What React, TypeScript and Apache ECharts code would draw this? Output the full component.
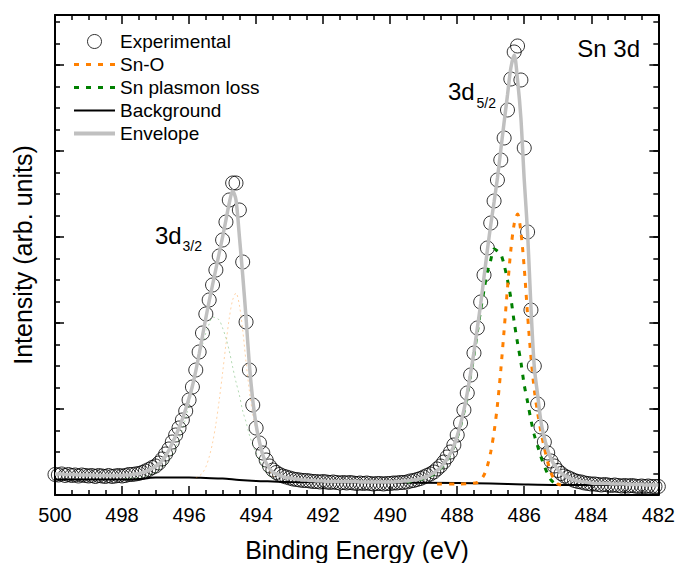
import React, { useEffect, useRef } from "react";
import * as echarts from "echarts";

// ---- Data (binding energy in eV, intensity in arbitrary units) ----
const energyStart = 500;
const energyStep = 0.1;

// Experimental points, 500.0 eV -> 482.0 eV in 0.1 eV steps
const experimental = [
  20.5, 20, 21, 19.5, 20.5, 19.5, 20, 19, 20, 19.5,
  19, 19.5, 18.5, 19.5, 19, 18.5, 19.5, 18.5, 19, 19.5,
  19, 19.5, 20.5, 20.5, 21, 21.5, 22.5, 24, 25.5, 27.5,
  29, 32, 36, 41, 46, 53, 60, 67, 75, 84,
  95, 108, 125, 143, 162, 181, 195, 210, 225, 239,
  255, 273, 295, 312, 312, 285, 233, 173, 125, 90,
  67, 52, 42, 35, 29, 25, 22.5, 20.5, 19, 18,
  17, 16, 15.5, 15, 14.5, 14.5, 14, 13.5, 13.5, 13,
  13.5, 13, 12.5, 13, 12.5, 12, 12.5, 12, 12.5, 12,
  11.5, 12, 11.5, 12, 11.5, 11, 11.5, 11.5, 11, 11.5,
  11.5, 12, 12, 12.5, 12.5, 13, 14, 14.5, 15.5, 16.5,
  18, 19.5, 21, 23, 26, 29, 33, 38, 43, 50,
  60, 72, 85, 102, 120, 142, 167, 193, 220, 247,
  272, 294, 315, 335, 357, 385, 416, 443, 449, 415,
  347, 263, 185, 129, 91, 68, 53, 42, 34, 29,
  24.5, 21.5, 19, 17.5, 16, 14.5, 13.5, 13, 12, 11.5,
  11, 11, 10.5, 10, 10.5, 10, 9.5, 10, 9.5, 9,
  9.5, 9, 9.5, 9, 8.5, 9, 8.5, 9, 8.5, 8.5,
  8.5,
];

// Fitted envelope on the same energy grid
const envelope = [
  21, 21, 21, 20.5, 20.5, 20.5, 20.5, 20, 20, 20,
  20, 20, 19.5, 19.5, 19.5, 19.5, 19.5, 19.5, 19.5, 19.5,
  19.5, 20, 20, 20.5, 21, 21.5, 22.5, 23.5, 25, 26.5,
  28.5, 31, 34.5, 39, 45, 52, 59, 67, 76, 86,
  97, 109, 124, 141, 159, 177, 194, 210, 226, 242,
  258, 275, 292, 304, 295, 259, 220, 177, 130, 95,
  70, 53, 40, 32, 26.5, 23, 21, 19.5, 18.5, 17.5,
  17, 16.5, 16, 15.5, 15, 15, 14.5, 14.5, 14, 14,
  14, 13.5, 13.5, 13.5, 13.5, 13.5, 13.5, 13.5, 13.5, 13.5,
  13.5, 13, 13, 13, 13, 13, 13, 13, 13, 13,
  13, 13, 13.5, 13.5, 14, 14, 14.5, 15, 15.5, 16.5,
  17.5, 18.5, 20, 22, 24.5, 27.5, 31.5, 36, 42, 49,
  59, 71, 85, 102, 122, 143, 167, 191, 218, 245,
  270, 293, 317, 345, 373, 400, 427, 440, 415, 377,
  315, 262, 188, 128, 100, 73, 57, 45, 36, 30,
  25.5, 22, 19.5, 17.5, 16, 15, 14, 13.5, 13, 12.5,
  12, 11.5, 11.5, 11.5, 11.5, 11.5, 11, 11, 11, 11,
  11, 10.5, 10.5, 10.5, 10.5, 10.5, 10, 10, 10, 10,
  10,
];

// Background
const backgroundEnergy = [500, 498, 497.5, 497.2, 497, 496, 495.5, 495, 494.5, 494, 493.5, 493, 490, 488, 487, 486.5, 486, 485, 482];
const backgroundValue = [15.5, 15.5, 16, 17, 17.5, 17.5, 17, 16.5, 15, 14, 13.5, 13, 12.5, 12, 11.5, 11, 10.5, 10, 10];

// Sn-O component, 3d5/2
const snO52Energy = [488.6, 488.0, 487.6, 487.4, 487.3, 487.2, 487.1, 487.0, 486.9, 486.8, 486.7, 486.6, 486.5, 486.4, 486.3, 486.2, 486.1, 486.0, 485.9, 485.8, 485.7, 485.6, 485.5, 485.4, 485.3, 485.2, 485.1, 485.0, 484.9];
const snO52Value = [11, 11, 11.5, 12.5, 15, 20, 29, 43, 63, 90, 125, 165, 207, 245, 271, 281, 263, 227, 180, 138, 105, 82, 63, 47, 33, 22, 15, 11, 10];

// Sn plasmon loss component, 3d5/2
const plasmon52Energy = [489.5, 489.0, 488.8, 488.6, 488.5, 488.4, 488.3, 488.2, 488.1, 488.0, 487.9, 487.8, 487.7, 487.6, 487.5, 487.4, 487.3, 487.2, 487.1, 487.0, 486.9, 486.8, 486.7, 486.6, 486.5, 486.4, 486.3, 486.2, 486.1, 486.0, 485.9, 485.8, 485.7, 485.6, 485.5, 485.4, 485.3, 485.2, 485.1, 485.0];
const plasmon52Value = [13, 16.5, 19, 23.5, 26.5, 30.5, 35, 41, 48, 57.5, 69, 83, 100, 120, 140, 163, 185, 205, 223, 235, 246, 244, 241, 230, 215, 197, 173, 152, 133, 110, 93, 75, 60, 49, 38, 29, 21, 15, 12, 10.5];

// Sn-O component, 3d3/2 (faint)
const snO32Energy = [495.8, 495.7, 495.6, 495.5, 495.4, 495.3, 495.2, 495.1, 495.0, 494.9, 494.8, 494.7, 494.6, 494.5, 494.4, 494.3, 494.2, 494.1, 494.0, 493.9, 493.8, 493.7, 493.6, 493.5, 493.4];
const snO32Value = [17, 19, 22, 28, 38, 52, 71, 95, 122, 151, 177, 195, 202, 190, 165, 133, 104, 81, 65, 52, 41, 31, 24, 19, 16];

// Sn plasmon loss component, 3d3/2 (faint)
const plasmon32Energy = [497.9, 497.4, 497.2, 497.0, 496.9, 496.8, 496.7, 496.6, 496.5, 496.4, 496.3, 496.2, 496.1, 496.0, 495.9, 495.8, 495.7, 495.6, 495.5, 495.4, 495.3, 495.2, 495.1, 495.0, 494.9, 494.8, 494.7, 494.6, 494.5, 494.4, 494.3, 494.2, 494.1, 494.0, 493.9, 493.8, 493.7, 493.6, 493.5];
const plasmon32Value = [16.5, 18, 20, 22.5, 25, 28, 31, 35, 41, 48, 56, 66, 77, 91, 105, 121, 136, 150, 162, 171, 178, 177, 175, 167, 157, 144, 128, 113, 100, 84, 73, 60, 50, 42, 35, 28, 23, 19, 16.5];

const legendNames = ["Experimental", "Sn-O", "Sn plasmon loss", "Background", "Envelope"];

const FONT = "'Liberation Sans', Arial, Helvetica, sans-serif";
const ORANGE = "#ff8000";
const GREEN = "#008000";
const GREY = "#c0c0c0";

const gridEnergies = experimental.map((_, i) => Math.round((energyStart - i * energyStep) * 10) / 10);
const pairs = (xs: number[], ys: number[]) => xs.map((x, i) => [x, ys[i]]);

export default function App() {
  const ref = useRef<HTMLDivElement>(null);

  useEffect(() => {
    document.body.style.margin = "0";
    if (!ref.current) return;
    const chart = echarts.init(ref.current, null, { renderer: "svg" });

    const axisLine = { show: true, onZero: false, lineStyle: { color: "#000", width: 2 } };
    const majorTick = { show: true, inside: true, length: 9, lineStyle: { color: "#000", width: 1.5 } };
    const minorTickOnly = { show: true, inside: true, length: 5, lineStyle: { color: "#000", width: 1.5 } };
    const xMinor = { show: true, splitNumber: 4, length: 5, lineStyle: { color: "#000", width: 1.5 } };

    const xCommon = {
      type: "value",
      min: 482,
      max: 500,
      interval: 2,
      inverse: true,
      axisLine,
      axisTick: majorTick,
      minorTick: xMinor,
      splitLine: { show: false },
      minorSplitLine: { show: false },
    };
    const yMajor = {
      type: "value",
      min: 0,
      max: 480,
      interval: 86,
      axisLine,
      axisTick: majorTick,
      axisLabel: { show: false },
      splitLine: { show: false },
    };
    const yMinor = {
      type: "value",
      min: 0,
      max: 480,
      interval: 21.5,
      axisLine: { show: false, onZero: false },
      axisTick: minorTickOnly,
      axisLabel: { show: false },
      splitLine: { show: false },
    };

    const hiddenSymbol = { opacity: 0, color: "rgba(0,0,0,0)", borderWidth: 0 };

    const option: any = {
      animation: false,
      backgroundColor: "#fff",
      grid: { left: 55, right: 19, top: 15, bottom: 68, containLabel: false },
      xAxis: [
        {
          ...xCommon,
          position: "bottom",
          axisLabel: { show: true, fontSize: 20, color: "#000", fontFamily: FONT, margin: 10, showMinLabel: true, showMaxLabel: true },
        },
        { ...xCommon, position: "top", axisLabel: { show: false } },
      ],
      yAxis: [
        { ...yMajor, position: "left" },
        { ...yMinor, position: "left" },
        { ...yMajor, position: "right" },
        { ...yMinor, position: "right" },
      ],
      legend: {
        orient: "vertical",
        left: 72,
        top: 32,
        padding: 0,
        itemGap: 4,
        itemWidth: 41,
        itemHeight: 14,
        selectedMode: false,
        textStyle: { fontSize: 19, color: "#000", fontFamily: FONT },
        data: [
          { name: legendNames[0], icon: "circle", itemStyle: { color: "rgba(255,255,255,0)", borderColor: "#000", borderWidth: 1 } },
          { name: legendNames[1], itemStyle: hiddenSymbol, lineStyle: { width: 3, type: [5, 7], color: ORANGE } },
          { name: legendNames[2], itemStyle: hiddenSymbol, lineStyle: { width: 3, type: [5, 7], color: GREEN } },
          { name: legendNames[3], itemStyle: hiddenSymbol, lineStyle: { width: 2, type: "solid", color: "#000" } },
          { name: legendNames[4], itemStyle: hiddenSymbol, lineStyle: { width: 4, type: "solid", color: GREY } },
        ],
      },
      series: [
        {
          name: "Experimental",
          type: "scatter",
          data: pairs(gridEnergies, experimental),
          symbol: "circle",
          symbolSize: 14,
          itemStyle: { color: "rgba(255,255,255,0)", borderColor: "#000", borderWidth: 1 },
          z: 2,
        },
        {
          name: "Background",
          type: "line",
          color: "#000",
          data: pairs(backgroundEnergy, backgroundValue),
          symbol: "none",
          showSymbol: false,
          smooth: 0.3,
          lineStyle: { color: "#000", width: 2 },
          z: 3,
        },
        {
          name: "Sn-O 3d3/2",
          type: "line",
          color: ORANGE,
          data: pairs(snO32Energy, snO32Value),
          symbol: "none",
          showSymbol: false,
          smooth: 0.3,
          lineStyle: { color: ORANGE, width: 1, type: [2, 3], opacity: 0.35 },
          z: 3,
        },
        {
          name: "Sn plasmon loss 3d3/2",
          type: "line",
          color: GREEN,
          data: pairs(plasmon32Energy, plasmon32Value),
          symbol: "none",
          showSymbol: false,
          smooth: 0.3,
          lineStyle: { color: GREEN, width: 1, type: [2, 3], opacity: 0.3 },
          z: 3,
        },
        {
          name: "Sn plasmon loss",
          type: "line",
          color: GREEN,
          data: pairs(plasmon52Energy, plasmon52Value),
          symbol: "none",
          showSymbol: false,
          smooth: 0.3,
          lineStyle: { color: GREEN, width: 3, type: [5, 7] },
          z: 4,
        },
        {
          name: "Sn-O",
          type: "line",
          color: ORANGE,
          data: pairs(snO52Energy, snO52Value),
          symbol: "none",
          showSymbol: false,
          smooth: 0.3,
          lineStyle: { color: ORANGE, width: 3, type: [5, 7] },
          z: 4,
        },
        {
          name: "Envelope",
          type: "line",
          color: GREY,
          data: pairs(gridEnergies, envelope),
          symbol: "none",
          showSymbol: false,
          smooth: 0.3,
          lineStyle: { color: GREY, width: 3.5 },
          z: 5,
        },
      ],
      graphic: [
        { type: "text", x: 640, y: 48, style: { text: "Sn 3d", fontSize: 24, fontFamily: FONT, fill: "#000", align: "right", verticalAlign: "middle" } },
        { type: "text", x: 448, y: 91, style: { text: "3d", fontSize: 24, fontFamily: FONT, fill: "#000", align: "left", verticalAlign: "middle" } },
        { type: "text", x: 476.5, y: 103, style: { text: "5/2", fontSize: 14, fontFamily: FONT, fill: "#000", align: "left", verticalAlign: "middle" } },
        { type: "text", x: 155, y: 235, style: { text: "3d", fontSize: 24, fontFamily: FONT, fill: "#000", align: "left", verticalAlign: "middle" } },
        { type: "text", x: 182.5, y: 246, style: { text: "3/2", fontSize: 14, fontFamily: FONT, fill: "#000", align: "left", verticalAlign: "middle" } },
        { type: "text", x: 357, y: 550, style: { text: "Binding Energy (eV)", fontSize: 25, fontFamily: FONT, fill: "#000", align: "center", verticalAlign: "middle" } },
        { type: "text", x: 23, y: 255, rotation: Math.PI / 2, style: { text: "Intensity (arb. units)", fontSize: 25, fontFamily: FONT, fill: "#000", align: "center", verticalAlign: "middle" } },
      ],
    };

    chart.setOption(option);
    return () => chart.dispose();
  }, []);

  return <div ref={ref} style={{ width: 678, height: 563 }} />;
}
